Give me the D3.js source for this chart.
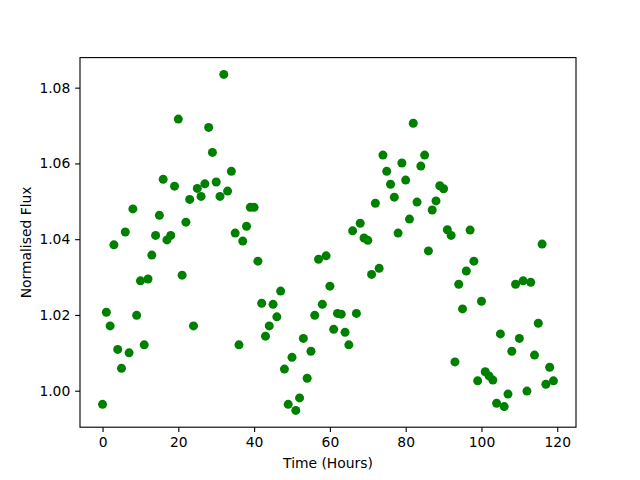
<!DOCTYPE html>
<html>
<head>
<meta charset="utf-8">
<script src="https://cdn.jsdelivr.net/npm/d3@7"></script>
<style>
  body { margin: 0; background: #fff; }
  svg { display: block; font-family: "DejaVu Sans", sans-serif; }
</style>
</head>
<body>
<svg id="chart" width="640" height="480"></svg>
<script>
// time of each sample, hours
const hours = [
    0, 1, 2, 3, 4, 5, 6, 7, 8, 9, 10, 11, 12, 13, 14, 15, 16, 17, 18, 19,
    20, 21, 22, 23, 24, 25, 26, 27, 28, 29, 30, 31, 32, 33, 34, 35, 36, 37, 38, 39,
    40, 41, 42, 43, 44, 45, 46, 47, 48, 49, 50, 51, 52, 53, 54, 55, 56, 57, 58, 59,
    60, 61, 62, 63, 64, 65, 66, 67, 68, 69, 70, 71, 72, 73, 74, 75, 76, 77, 78, 79,
    80, 81, 82, 83, 84, 85, 86, 87, 88, 89, 90, 91, 92, 93, 94, 95, 96, 97, 98, 99,
    100, 101, 102, 103, 104, 105, 106, 107, 108, 109, 110, 111, 112, 113, 114, 115, 116, 117, 118, 119
];

// normalised flux
const flux = [
    0.9964, 1.0207, 1.0171, 1.0385, 1.0109, 1.0059, 1.0419, 1.0100, 1.0480, 1.0199,
    1.0290, 1.0121, 1.0295, 1.0358, 1.0410, 1.0463, 1.0558, 1.0398, 1.0410, 1.0540,
    1.0717, 1.0305, 1.0445, 1.0505, 1.0171, 1.0534, 1.0513, 1.0546, 1.0695, 1.0629,
    1.0551, 1.0513, 1.0835, 1.0527, 1.0579, 1.0416, 1.0121, 1.0395, 1.0434, 1.0484,
    1.0484, 1.0342, 1.0231, 1.0144, 1.0171, 1.0228, 1.0195, 1.0263, 1.0057, 0.9964,
    1.0088, 0.9948, 0.9981, 1.0138, 1.0033, 1.0104, 1.0199, 1.0347, 1.0228, 1.0356,
    1.0276, 1.0162, 1.0204, 1.0202, 1.0154, 1.0121, 1.0422, 1.0204, 1.0442, 1.0403,
    1.0397, 1.0307, 1.0495, 1.0323, 1.0622, 1.0579, 1.0545, 1.0511, 1.0416, 1.0601,
    1.0556, 1.0453, 1.0706, 1.0498, 1.0593, 1.0622, 1.0369, 1.0477, 1.0501, 1.0541,
    1.0533, 1.0425, 1.0410, 1.0076, 1.0281, 1.0216, 1.0316, 1.0424, 1.0342, 1.0026,
    1.0236, 1.0050, 1.0039, 1.0028, 0.9967, 1.0150, 0.9958, 0.9991, 1.0104, 1.0281,
    1.0138, 1.0290, 0.9999, 1.0286, 1.0094, 1.0178, 1.0387, 1.0017, 1.0062, 1.0026
];

const xTicks = [0, 20, 40, 60, 80, 100, 120];
const yTicks = [1.00, 1.02, 1.04, 1.06, 1.08];

const WIDTH = 640;
const HEIGHT = 480;
const LEFT = 80;
const RIGHT = 576;
const TOP = 57.6;
const BOTTOM = 427.2;
const PT = 100 / 72;
const FONT_SIZE = 10 * PT;

// matplotlib style 5% margins around the data
function padded(values) {
    const [lo, hi] = d3.extent(values);
    const m = (hi - lo) * 0.05;
    return [lo - m, hi + m];
}

const x = d3.scaleLinear().domain(padded(hours)).range([LEFT, RIGHT]);
const y = d3.scaleLinear().domain(padded(flux)).range([BOTTOM, TOP]);

const svg = d3.select("#chart");

svg.append("rect")
    .attr("width", WIDTH)
    .attr("height", HEIGHT)
    .attr("fill", "#fff");

svg.append("g")
    .selectAll("circle")
    .data(hours)
    .enter()
    .append("circle")
    .attr("cx", (d) => x(d))
    .attr("cy", (_d, i) => y(flux[i]))
    .attr("r", 4.5)
    .attr("fill", "#008000");

const xAxis = svg.append("g")
    .attr("transform", `translate(0, ${BOTTOM})`)
    .call(d3.axisBottom(x)
        .tickValues(xTicks)
        .tickFormat(d3.format("d"))
        .tickSizeInner(3.5 * PT)
        .tickSizeOuter(0)
        .tickPadding(3.5 * PT));

const yAxis = svg.append("g")
    .attr("transform", `translate(${LEFT}, 0)`)
    .call(d3.axisLeft(y)
        .tickValues(yTicks)
        .tickFormat(d3.format(".2f"))
        .tickSizeInner(3.5 * PT)
        .tickSizeOuter(0)
        .tickPadding(3.5 * PT));

[xAxis, yAxis].forEach((g) => {
    g.select(".domain").remove();
    g.selectAll("line").attr("stroke", "#000").attr("stroke-width", 0.8 * PT);
    g.selectAll("text")
        .attr("fill", "#000")
        .style("font-family", "'DejaVu Sans', sans-serif")
        .style("font-size", `${FONT_SIZE}px`);
});

// frame
svg.append("rect")
    .attr("x", LEFT)
    .attr("y", TOP)
    .attr("width", RIGHT - LEFT)
    .attr("height", BOTTOM - TOP)
    .attr("fill", "none")
    .attr("stroke", "#000")
    .attr("stroke-width", 0.8 * PT);

svg.append("text")
    .attr("x", (LEFT + RIGHT) / 2)
    .attr("y", 468)
    .attr("text-anchor", "middle")
    .style("font-size", `${FONT_SIZE}px`)
    .text("Time (Hours)");

svg.append("text")
    .attr("transform", `translate(30.5, ${(TOP + BOTTOM) / 2}) rotate(-90)`)
    .attr("text-anchor", "middle")
    .style("font-size", `${FONT_SIZE}px`)
    .text("Normalised Flux");
</script>
</body>
</html>
